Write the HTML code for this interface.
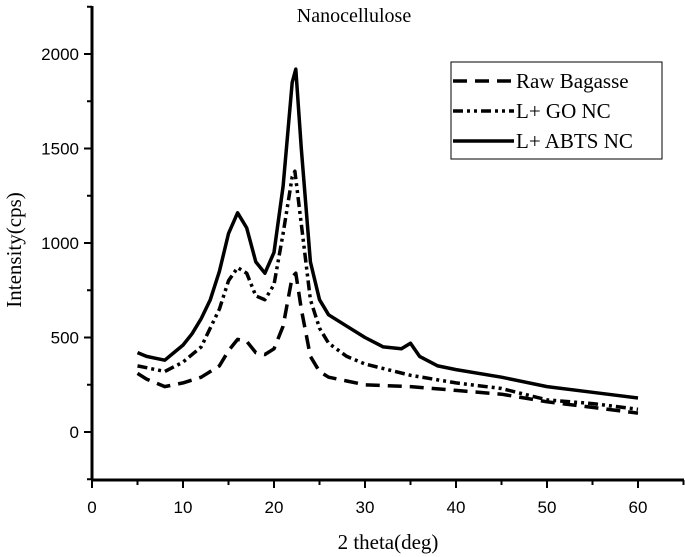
<!DOCTYPE html>
<html><head><meta charset="utf-8"><style>
body{margin:0;background:#fff;}
svg{display:block}
</style></head><body>
<svg id="chart" width="685" height="557" xmlns="http://www.w3.org/2000/svg"></svg>
<script>
const xTicks=[0,10,20,30,40,50,60];
const yTicks=[0,500,1000,1500,2000];
const abtsX=[5,6,7,8,9,10,11,12,13,14,15,16,17,18,19,20,21,22,22.4,23,24,25,26,28,30,32,34,35,36,38,40,45,50,55,60];
const abtsY=[420,400,390,380,420,460,520,600,700,850,1050,1160,1080,900,840,950,1300,1850,1920,1500,900,700,620,560,500,450,440,470,400,350,330,290,240,210,180];
const goX=[5,6,7,8,10,12,14,15,16,17,18,19,20,21,22,22.3,23,24,25,26,28,30,35,40,45,50,55,60];
const goY=[350,340,330,320,370,450,650,800,870,840,720,700,780,1050,1350,1380,1100,700,550,470,400,360,300,260,230,170,150,120];
const rawX=[5,6,7,8,10,12,14,15,16,17,18,19,20,21,22,22.4,23,24,25,26,28,30,35,40,45,50,55,60];
const rawY=[310,280,260,240,260,290,350,430,490,480,420,410,440,560,820,840,650,400,320,290,270,250,240,220,200,160,130,100];

const NS="http://www.w3.org/2000/svg";
const svg=document.getElementById('chart');
const sx=v=>92+v*9.1;
const sy=v=>432-v*0.189;
function mk(t,a,p){const e=document.createElementNS(NS,t);for(const k in a)e.setAttribute(k,a[k]);(p||svg).appendChild(e);return e;}

let ax=mk('line',{x1:92,y1:6,x2:92,y2:480,stroke:'#000','stroke-width':3});


let bx=mk('line',{x1:91,y1:480,x2:684,y2:480,stroke:'#000','stroke-width':3});



for(let i=0;i<=13;i++){const v=i*5;const x=sx(v);
 mk('line',{x1:x,y1:480,x2:x,y2:i%2?485:488,stroke:'#000','stroke-width':2});
 }
xTicks.forEach(v=>{const t=mk('text',{x:sx(v),y:513,'text-anchor':'middle','font-family':'Liberation Sans, sans-serif','font-size':17});t.textContent=v;
 
 });
for(let v=-250;v<=2250;v+=250){const y=sy(v);if(y<6)continue;
 mk('line',{x1:92,y1:y,x2:v%500?87:84,y2:y,stroke:'#000','stroke-width':2});}
yTicks.forEach(v=>{const t=mk('text',{x:79,y:sy(v)+6,'text-anchor':'end','font-family':'Liberation Sans, sans-serif','font-size':17});t.textContent=v;
 
 });

function line(xs,ys,dash,name){const d=xs.map((x,i)=>(i?'L':'M')+sx(x).toFixed(1)+' '+sy(ys[i]).toFixed(1)).join(' ');
 const p=mk('path',{d:d,fill:'none',stroke:'#000','stroke-width':3.5,'stroke-dasharray':dash,'stroke-linejoin':'round'});
 
 }
line(rawX,rawY,'14 8','series-raw-bagasse');
line(goX,goY,'10 4 3 4 3 4','series-l-go-nc');
line(abtsX,abtsY,'none','series-l-abts-nc');

const title=mk('text',{x:354,y:22,'text-anchor':'middle','font-family':'Liberation Serif, serif','font-size':20});title.textContent='Nanocellulose';


const xt=mk('text',{x:388,y:549,'text-anchor':'middle','font-family':'Liberation Serif, serif','font-size':21});xt.textContent='2 theta(deg)';


const yt=mk('text',{x:0,y:0,'text-anchor':'middle','font-family':'Liberation Serif, serif','font-size':21,transform:'translate(21,250) rotate(-90)'});yt.textContent='Intensity(cps)';



const lg=mk('g',{});


mk('rect',{x:451,y:62,width:211,height:97,fill:'#fff',stroke:'#000','stroke-width':1},lg);
const items=[['Raw Bagasse','14 8'],['L+ GO NC','10 4 3 4 3 4'],['L+ ABTS NC','none']];
items.forEach((it,i)=>{const y=81+i*30;
 mk('line',{x1:453,y1:y,x2:514,y2:y,stroke:'#000','stroke-width':3.5,'stroke-dasharray':it[1]},lg);
 const t=mk('text',{x:516,y:y+7,'font-family':'Liberation Serif, serif','font-size':21},lg);t.textContent=it[0];
 
 });
</script>
</body></html>
